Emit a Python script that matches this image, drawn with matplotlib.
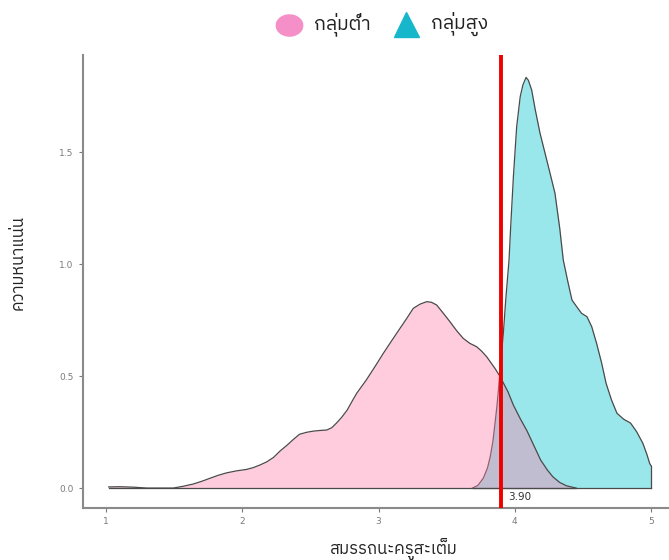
import matplotlib
matplotlib.use("Agg")
import matplotlib.pyplot as plt
from matplotlib import font_manager
from matplotlib.ft2font import FT2Font
from matplotlib.path import Path
import numpy as np

# ---------------- data ----------------
low_label = "กลุ่มต่ำ"
high_label = "กลุ่มสูง"
x_label = "สมรรถนะครูสะเต็ม"
y_label = "ความหนาแน่น"
cut_value = 3.90
cut_text = "3.90"

low_x = [1.02, 1.10, 1.20, 1.30, 1.494, 1.567, 1.64, 1.702, 1.76, 1.824, 1.886, 1.96,
         2.03, 2.08, 2.13, 2.18, 2.23, 2.277, 2.33, 2.375, 2.42, 2.473, 2.52, 2.57,
         2.62, 2.656, 2.69, 2.73, 2.77, 2.803, 2.84, 2.91, 2.974, 3.035, 3.097, 3.158,
         3.207, 3.255, 3.305, 3.354, 3.39, 3.427, 3.476, 3.525, 3.574, 3.622, 3.67, 3.72,
         3.757, 3.794, 3.855, 3.89, 3.95, 3.99, 4.04, 4.09, 4.14, 4.19, 4.24, 4.28,
         4.33, 4.38, 4.45]
low_y = [0.005, 0.006, 0.004, 0.0, 0.0, 0.008, 0.018, 0.030, 0.043, 0.057, 0.068, 0.077,
         0.083, 0.091, 0.103, 0.117, 0.137, 0.165, 0.192, 0.217, 0.240, 0.249, 0.254, 0.257,
         0.259, 0.269, 0.289, 0.316, 0.348, 0.384, 0.423, 0.482, 0.542, 0.601, 0.658, 0.713,
         0.757, 0.802, 0.821, 0.832, 0.829, 0.817, 0.780, 0.742, 0.702, 0.668, 0.646, 0.631,
         0.611, 0.586, 0.534, 0.500, 0.430, 0.370, 0.310, 0.255, 0.190, 0.125, 0.080, 0.050,
         0.025, 0.010, 0.0]

high_x = [3.69, 3.73, 3.77, 3.80, 3.82, 3.84, 3.855, 3.87, 3.88, 3.89, 3.90, 3.916,
          3.935, 3.958, 3.97, 3.99, 4.014, 4.04, 4.06, 4.083, 4.10, 4.124, 4.15, 4.185,
          4.22, 4.259, 4.295, 4.33, 4.356, 4.39, 4.42, 4.454, 4.49, 4.53, 4.565, 4.60,
          4.638, 4.67, 4.71, 4.75, 4.80, 4.85, 4.895, 4.94, 4.97, 4.99, 5.0]
high_y = [0.0, 0.012, 0.045, 0.09, 0.14, 0.21, 0.289, 0.37, 0.437, 0.51, 0.58, 0.69,
          0.85, 1.018, 1.166, 1.39, 1.613, 1.747, 1.80, 1.833, 1.82, 1.777, 1.69, 1.585,
          1.50, 1.405, 1.316, 1.16, 1.018, 0.92, 0.839, 0.81, 0.78, 0.765, 0.72, 0.647,
          0.557, 0.468, 0.393, 0.334, 0.307, 0.290, 0.251, 0.200, 0.150, 0.110, 0.100]

x_ticks = [1, 2, 3, 4, 5]
y_ticks = [0.0, 0.5, 1.0, 1.5]
y_tick_labels = ["0.0", "0.5", "1.0", "1.5"]

# ---------------- font with Thai glyphs ----------------
def find_thai_font():
    prefs = []
    for path in font_manager.findSystemFonts():
        try:
            f = FT2Font(path)
            cmap = f.get_charmap()
        except Exception:
            continue
        if 0x0E01 in cmap and 0x0E48 in cmap:
            name = font_manager.FontProperties(fname=path).get_name()
            score = 0
            low = path.lower()
            if "bold" in low or "italic" in low or "oblique" in low:
                score += 10
            if "sans" not in low:
                score += 1
            prefs.append((score, name))
    if prefs:
        prefs.sort()
        return prefs[0][1]
    return None

thai = find_thai_font()
families = ([thai] if thai else []) + ["DejaVu Sans"]
plt.rcParams["font.family"] = families

# ---------------- figure ----------------
W, H = 669, 560
fig = plt.figure(figsize=(W / 100, H / 100), dpi=100)
ax = fig.add_axes([82.7 / W, (H - 508) / H, 1 - 82.7 / W, (508 - 55) / H])

pink = "#FF80AA"
teal = "#00C5CD"
outline = "#4a4a4a"

ax.fill_between(high_x, high_y, 0, color=teal, alpha=0.4, linewidth=0, zorder=2)
ax.plot(high_x, high_y, color=outline, lw=0.9, zorder=2.1)
ax.plot([high_x[-1], high_x[-1]], [0, high_y[-1]], color=outline, lw=0.9, zorder=2.1)
ax.plot([high_x[0], high_x[-1]], [0, 0], color=outline, lw=0.9, zorder=2.1)

ax.fill_between(low_x, low_y, 0, color=pink, alpha=0.4, linewidth=0, zorder=3)
ax.plot(low_x, low_y, color=outline, lw=0.9, zorder=3.1)
ax.plot([low_x[0], low_x[-1]], [0, 0], color=outline, lw=0.9, zorder=3.1)

ax.axvline(cut_value, color="#EE0000", lw=2.8, zorder=5)
ax.text(cut_value + 0.05, -0.042, cut_text, fontsize=7.5, color="#333333",
        ha="left", va="center", family="DejaVu Sans")

ax.set_xlim(0.829, 5.132)
ax.set_ylim(-0.089, 1.933)
ax.set_xticks(x_ticks)
ax.set_yticks(y_ticks)
ax.set_yticklabels(y_tick_labels)
for lab in ax.get_xticklabels() + ax.get_yticklabels():
    lab.set_family("DejaVu Sans")
ax.tick_params(axis="both", colors="#7a7a7a", labelsize=6.5, length=3, width=0.8,
               labelcolor="#7a7a7a")
for s in ["top", "right"]:
    ax.spines[s].set_visible(False)
for s in ["left", "bottom"]:
    ax.spines[s].set_color("#8a8a8a")
    ax.spines[s].set_linewidth(1.5)

fig.text(18 / W, 1 - 262 / H, y_label, rotation=90, ha="center", va="center",
         fontsize=12, color="#222222")
fig.text(394 / W, 1 - 549 / H, x_label, ha="center", va="center",
         fontsize=12, color="#222222")

# ---------------- legend (top, outside panel) ----------------
lax = fig.add_axes([0, 0, 1, 1], facecolor="none")
lax.set_xlim(0, W)
lax.set_ylim(H, 0)
lax.axis("off")
t = np.linspace(0, 2 * np.pi, 60)
ellipse = Path(np.column_stack([1.25 * np.cos(t), np.sin(t)]), closed=True)
lax.plot([289], [25], linestyle="none", marker=ellipse, markersize=19,
         markerfacecolor="#F48FC8", markeredgecolor="#F48FC8")
lax.plot([405.7], [24], linestyle="none", marker="^", markersize=18,
         markerfacecolor="#16B7CB", markeredgecolor="#16B7CB")
lax.text(314, 24, low_label, ha="left", va="center", fontsize=14, color="#222222")
lax.text(431, 24, high_label, ha="left", va="center", fontsize=14, color="#222222")

fig.savefig("out.png", dpi=100)
